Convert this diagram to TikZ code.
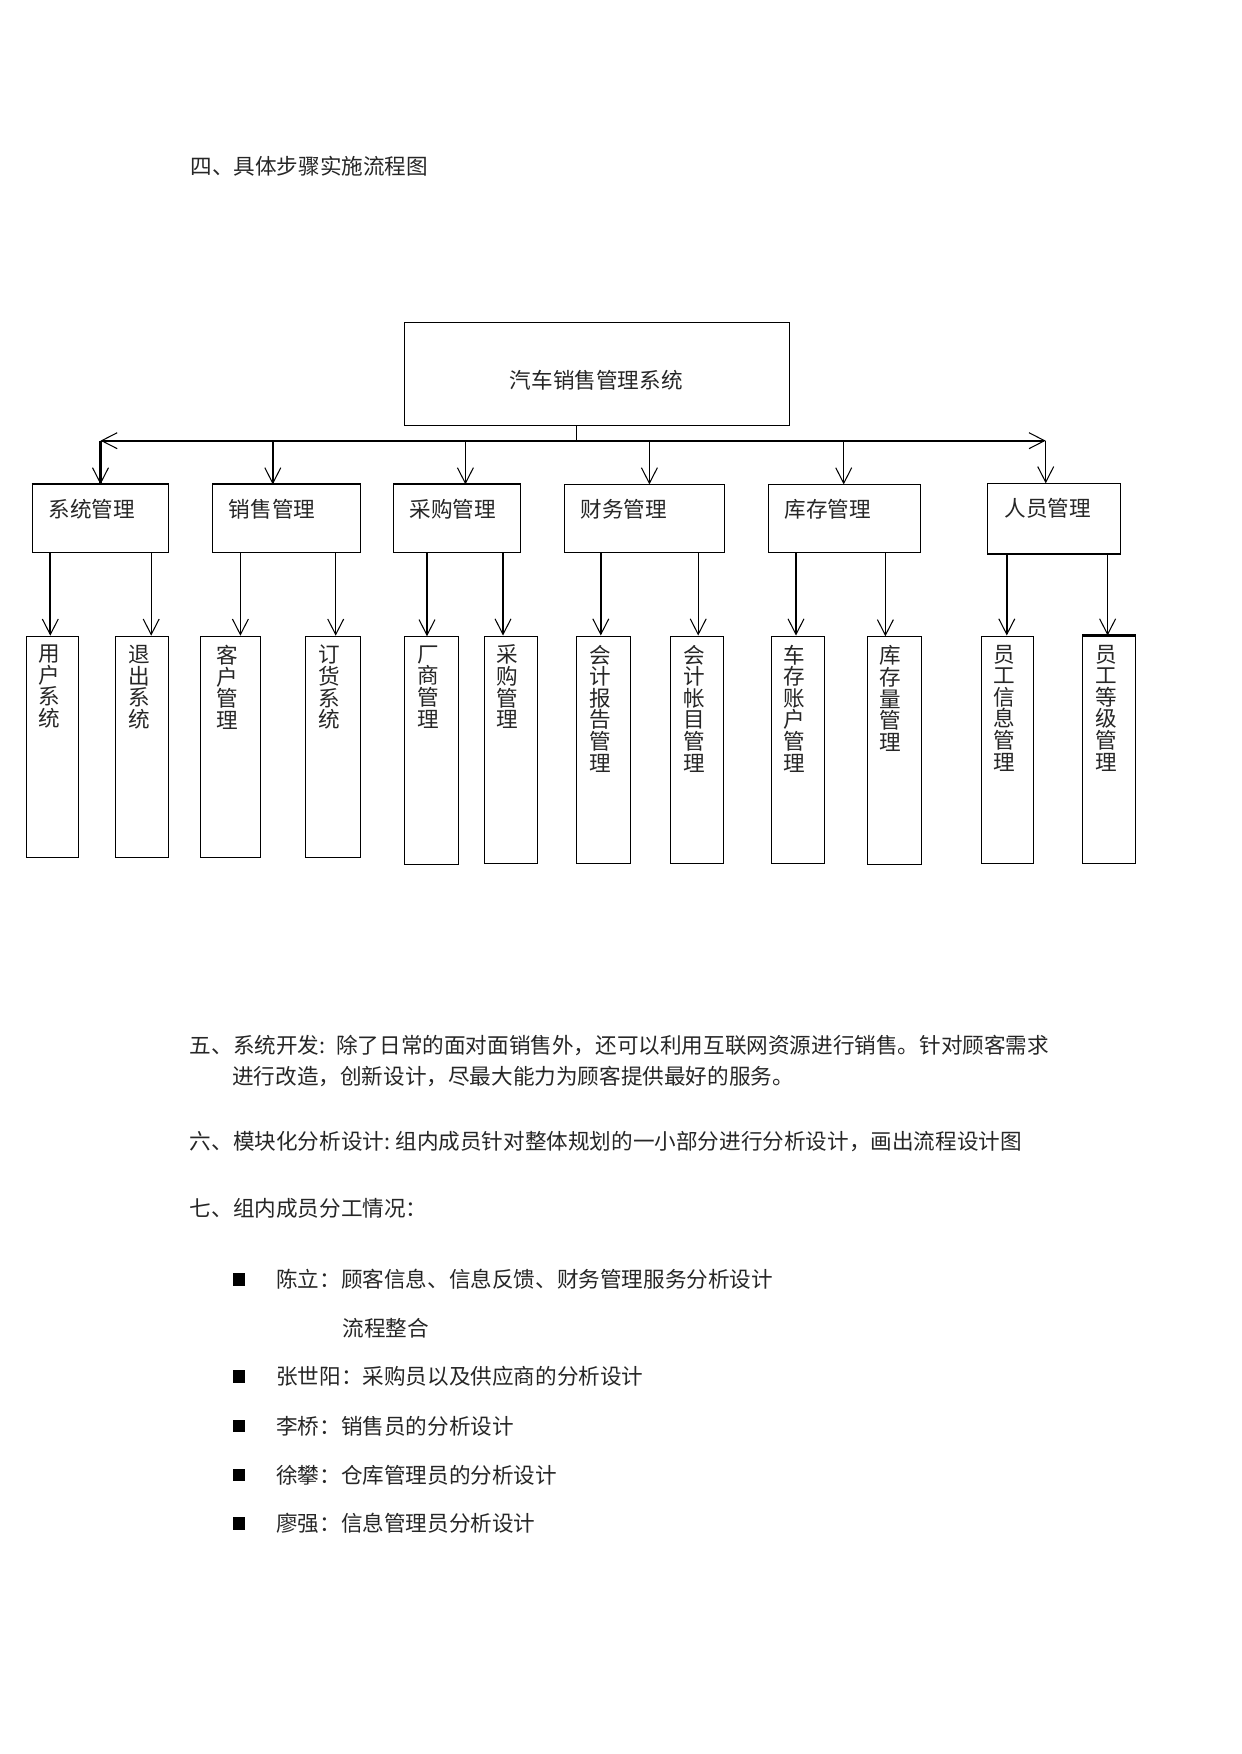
\documentclass[tikz,border=0pt]{standalone}
\usepackage{fontspec}
\setmainfont{Noto Sans CJK SC}
\usetikzlibrary{arrows.meta}

\tikzset{
  barb/.tip={Straight Barb[length=7.5pt,width=7.7pt,line width=0.5pt]},
  box/.style={draw, line width=0.5pt, anchor=north west, inner sep=0pt},
  txt/.style={anchor=west, inner sep=0pt, text=black!85},
  vtxt/.style={anchor=north, inner sep=0pt, align=center, text=black!85,
    font=\fontsize{10.4}{10.4}\selectfont},
  arr/.style={-barb, line width=0.5pt},
  thickarr/.style={arr, line width=1pt},
  sq/.style={fill=black, inner sep=0pt, minimum width=5.6pt, minimum height=6.2pt}
}

\begin{document}
\begin{tikzpicture}[font=\fontsize{10.4}{12}\selectfont]
    \pgfmathsetmacro{\pxs}{0.016922}
    \tikzset{x=\pxs cm, y=-\pxs cm}
    \useasboundingbox (0,0) rectangle (1241,1754);

    \node[txt] (head) at (190,166) {四、具体步骤实施流程图};

    \node[box, minimum width=384.4*\pxs cm, minimum height=103*\pxs cm] (top) at (404.3,322.3) {};
    \node[txt, anchor=center] (topT) at (596.3,380) {汽车销售管理系统};

    \coordinate (stem) at (576.3,440.7);
    \coordinate (bl) at (100.5,440.7);
    \coordinate (br) at (1045.7,440.7);
    \draw [line width=0.5pt] (stem |- top.south) -- (stem);
    \draw [line width=1pt, barb-barb] (bl) -- (br);

    \node[box, minimum width=136.8*\pxs cm, minimum height=67.8*\pxs cm] (sys) at (31.6,484.4) {};
    \node[box, minimum width=147.9*\pxs cm, minimum height=67.8*\pxs cm] (sal) at (212.3,484.4) {};
    \node[box, minimum width=127*\pxs cm, minimum height=67.8*\pxs cm] (pur) at (393.3,484.4) {};
    \node[box, minimum width=160*\pxs cm, minimum height=67.8*\pxs cm] (fin) at (564.3,484.4) {};
    \node[box, minimum width=151.4*\pxs cm, minimum height=67.8*\pxs cm] (inv) at (768.3,484.4) {};
    \node[box, minimum width=133*\pxs cm, minimum height=69.4*\pxs cm] (per) at (987.4,483.3) {};
    \draw [line width=1pt] (sys.north west) -- (sys.north east);
    \draw [line width=1pt] (sal.north west) -- (sal.north east);
    \draw [line width=1pt] (pur.north west) -- (pur.north east);
    \draw [line width=1pt] (per.south west) -- (per.south east);

    \node[txt] (sysT) at (48.2,509.3) {系统管理};
    \node[txt] (salT) at (228.5,509.3) {销售管理};
    \node[txt] (purT) at (409.2,509.3) {采购管理};
    \node[txt] (finT) at (580,509.3) {财务管理};
    \node[txt] (invT) at (784,509.3) {库存管理};
    \node[txt] (perT) at (1004,508.3) {人员管理};

    \coordinate (dsal) at (272.8,440.7);
    \coordinate (dpur) at (465.4,440.7);
    \coordinate (dfin) at (649.4,440.7);
    \coordinate (dinv) at (843.7,440.7);
    \draw [thickarr] (bl) -- (bl |- sys.north);
    \draw [thickarr] (dsal) -- (dsal |- sal.north);
    \draw [arr] (dpur) -- (dpur |- pur.north);
    \draw [arr] (dfin) -- (dfin |- fin.north);
    \draw [arr] (dinv) -- (dinv |- inv.north);
    \draw [arr] (br) -- (br |- per.north);

    \node[box, minimum width=52*\pxs cm, minimum height=221.6*\pxs cm] (l1) at (26.3,635.7) {};
    \node[box, minimum width=53*\pxs cm, minimum height=221.6*\pxs cm] (l2) at (115.3,635.7) {};
    \node[box, minimum width=60*\pxs cm, minimum height=221.6*\pxs cm] (l3) at (200.3,635.7) {};
    \node[box, minimum width=55.7*\pxs cm, minimum height=221.6*\pxs cm] (l4) at (304.5,635.7) {};
    \node[box, minimum width=54.2*\pxs cm, minimum height=228*\pxs cm] (l5) at (404.1,636.3) {};
    \node[box, minimum width=53.8*\pxs cm, minimum height=227.8*\pxs cm] (l6) at (483.6,635.5) {};
    \node[box, minimum width=53.9*\pxs cm, minimum height=227.8*\pxs cm] (l7) at (576.4,635.5) {};
    \node[box, minimum width=53.1*\pxs cm, minimum height=227.8*\pxs cm] (l8) at (670.3,635.5) {};
    \node[box, minimum width=53.8*\pxs cm, minimum height=227.8*\pxs cm] (l9) at (770.6,635.5) {};
    \node[box, minimum width=53.9*\pxs cm, minimum height=228*\pxs cm] (l10) at (866.6,636.3) {};
    \node[box, minimum width=52.8*\pxs cm, minimum height=227.8*\pxs cm] (l11) at (980.6,635.5) {};
    \node[box, minimum width=53*\pxs cm, minimum height=227.8*\pxs cm] (l12) at (1082.4,635.5) {};
    \draw [line width=1pt] (l12.north west) -- (l12.north east);

    \node[vtxt] (l1T) at ([xshift=-3.5*\pxs cm, yshift=-9*\pxs cm]l1.north) {用\\户\\系\\统};
    \node[vtxt] (l2T) at ([xshift=-3.5*\pxs cm, yshift=-9*\pxs cm]l2.north) {退\\出\\系\\统};
    \node[vtxt] (l3T) at ([xshift=-3.5*\pxs cm, yshift=-9*\pxs cm]l3.north) {客\\户\\管\\理};
    \node[vtxt] (l4T) at ([xshift=-3.5*\pxs cm, yshift=-9*\pxs cm]l4.north) {订\\货\\系\\统};
    \node[vtxt] (l5T) at ([xshift=-3.5*\pxs cm, yshift=-9*\pxs cm]l5.north) {厂\\商\\管\\理};
    \node[vtxt] (l6T) at ([xshift=-3.5*\pxs cm, yshift=-9*\pxs cm]l6.north) {采\\购\\管\\理};
    \node[vtxt] (l7T) at ([xshift=-3.5*\pxs cm, yshift=-9*\pxs cm]l7.north) {会\\计\\报\\告\\管\\理};
    \node[vtxt] (l8T) at ([xshift=-3.5*\pxs cm, yshift=-9*\pxs cm]l8.north) {会\\计\\帐\\目\\管\\理};
    \node[vtxt] (l9T) at ([xshift=-3.5*\pxs cm, yshift=-9*\pxs cm]l9.north) {车\\存\\账\\户\\管\\理};
    \node[vtxt] (l10T) at ([xshift=-3.5*\pxs cm, yshift=-9*\pxs cm]l10.north) {库\\存\\量\\管\\理};
    \node[vtxt] (l11T) at ([xshift=-3.5*\pxs cm, yshift=-9*\pxs cm]l11.north) {员\\工\\信\\息\\管\\理};
    \node[vtxt] (l12T) at ([xshift=-3.5*\pxs cm, yshift=-9*\pxs cm]l12.north) {员\\工\\等\\级\\管\\理};

    \coordinate (a1) at (50.3,600);
    \coordinate (a2) at (151.2,600);
    \coordinate (a3) at (240.4,600);
    \coordinate (a4) at (335.7,600);
    \coordinate (a5) at (427,600);
    \coordinate (a6) at (503,600);
    \coordinate (a7) at (600.8,600);
    \coordinate (a8) at (698.2,600);
    \coordinate (a9) at (796,600);
    \coordinate (a10) at (885.4,600);
    \coordinate (a11) at (1006.8,600);
    \coordinate (a12) at (1107.6,600);
    \draw [thickarr] (a1 |- sys.south) -- (a1 |- l1.north);
    \draw [arr] (a2 |- sys.south) -- (a2 |- l2.north);
    \draw [arr] (a3 |- sal.south) -- (a3 |- l3.north);
    \draw [arr] (a4 |- sal.south) -- (a4 |- l4.north);
    \draw [arr] (a5 |- pur.south) -- (a5 |- l5.north);
    \draw [thickarr] (a6 |- pur.south) -- (a6 |- l6.north);
    \draw [thickarr] (a7 |- fin.south) -- (a7 |- l7.north);
    \draw [arr] (a8 |- fin.south) -- (a8 |- l8.north);
    \draw [thickarr] (a9 |- inv.south) -- (a9 |- l9.north);
    \draw [arr] (a10 |- inv.south) -- (a10 |- l10.north);
    \draw [thickarr] (a11 |- per.south) -- (a11 |- l11.north);
    \draw [arr] (a12 |- per.south) -- (a12 |- l12.north);

    \node[txt] (p5a) at (189.4,1045) {五、系统开发:\hspace{0.5em}除了日常的面对面销售外，还可以利用互联网资源进行销售。针对顾客需求};
    \node[txt] (p5b) at (231.8,1076.5) {进行改造，创新设计，尽最大能力为顾客提供最好的服务。};
    \node[txt] (p6) at (189.4,1142) {六、模块化分析设计:\hspace{0.24em}组内成员针对整体规划的一小部分进行分析设计，画出流程设计图};
    \node[txt] (p7) at (189.4,1208) {七、组内成员分工情况：};

    \node[sq] (b1) at (239.3,1279.5) {};
    \node[sq] (b2) at (239.3,1376.5) {};
    \node[sq] (b3) at (239.3,1426) {};
    \node[sq] (b4) at (239.3,1475) {};
    \node[sq] (b5) at (239.3,1523.3) {};
    \node[txt] (m1) at (275.9,1279.5) {陈立：顾客信息、信息反馈、财务管理服务分析设计};
    \node[txt] (m1b) at (342,1328.3) {流程整合};
    \node[txt] (m2) at (275.9,1376.5) {张世阳：采购员以及供应商的分析设计};
    \node[txt] (m3) at (275.9,1426) {李桥：销售员的分析设计};
    \node[txt] (m4) at (275.9,1475) {徐攀：仓库管理员的分析设计};
    \node[txt] (m5) at (275.9,1523.3) {廖强：信息管理员分析设计};
\end{tikzpicture}
\end{document}
